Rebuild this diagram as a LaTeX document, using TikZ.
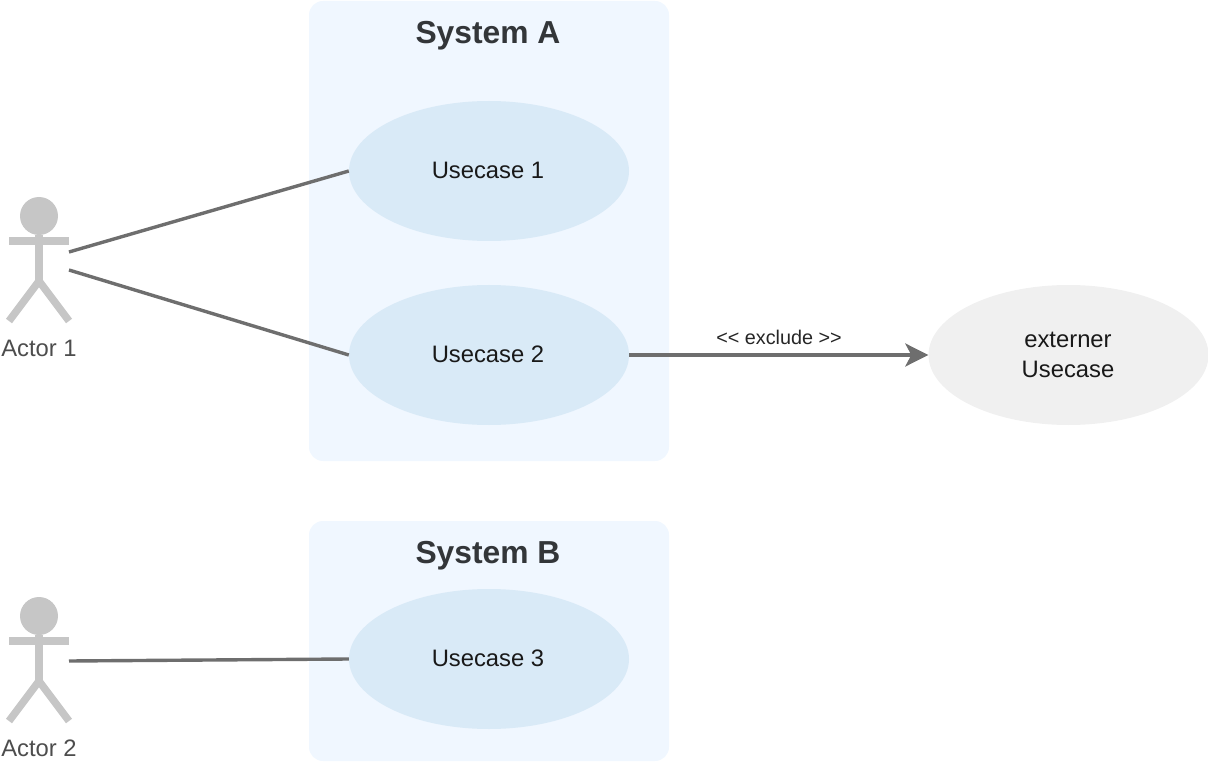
\documentclass[tikz,border=0pt]{standalone}
\usepackage{fontspec}
\setmainfont{Liberation Sans}
\usetikzlibrary{shapes.geometric,arrows.meta}
\definecolor{sysfill}{HTML}{F0F7FF}
\definecolor{ucfill}{HTML}{D9EAF7}
\definecolor{extfill}{HTML}{F0F0F0}
\definecolor{actorc}{HTML}{C6C6C6}
\definecolor{linec}{HTML}{6E6E6E}
\definecolor{titlec}{HTML}{333639}
\definecolor{actortext}{HTML}{4D4D4D}
\begin{document}
\begin{tikzpicture}[x=1pt,y=-1pt,
  usecase/.style={ellipse,fill=ucfill,minimum width=280pt,minimum height=140pt,inner sep=0pt},
  uctext/.style={font=\fontsize{23.8}{30}\selectfont,text=black!90,align=center},
  systitle/.style={font=\fontsize{31.8}{38}\selectfont\bfseries,text=titlec},
  actorlabel/.style={font=\fontsize{23.8}{28}\selectfont,text=actortext},
  limb/.style={draw=actorc,line width=7.5pt},
  conn/.style={draw=linec,line width=3.4pt},
]
\useasboundingbox (0,0) rectangle (1208,762);
\fill[sysfill,rounded corners=14pt] (309,1) rectangle (669,461);
\fill[sysfill,rounded corners=14pt] (309,521) rectangle (669,761);
\node[systitle] (sa) at (488,36) {System A};
\node[systitle] (sb) at (488,556) {System B};
\node[usecase] (u1) at (489,171) {};
\node[usecase] (u2) at (489,355) {};
\node[usecase] (u3) at (489,659) {};
\node[usecase,fill=extfill] (ext) at (1068.5,355) {};
\node[uctext] (t1) at (488,170) {Usecase 1};
\node[uctext] (t2) at (488,354) {Usecase 2};
\node[uctext] (t3) at (488,658) {Usecase 3};
\node[uctext] (t4) at (1068,355) {externer\\Usecase};
% actors
\foreach \n/\yy in {a/197,b/597}{
  \fill[actorc] (39,\yy+19) circle (19);
  \draw[limb] (39,\yy+38) -- (39,\yy+84);
  \draw[limb] (9,\yy+44) -- (69,\yy+44);
  \draw[limb] (9,\yy+124) -- (39,\yy+84) -- (69,\yy+124);
  \coordinate (\n1) at (69,\yy+55);
  \coordinate (\n2) at (69,\yy+73);
}
\coordinate (b3) at (69,661);
\node[actorlabel] (l1) at (39,348) {Actor 1};
\node[actorlabel] (l2) at (39,748) {Actor 2};
\draw[conn] (a1) -- (u1.west);
\draw[conn] (a2) -- (u2.west);
\draw[conn] (b3) -- (u3.west);
\draw[conn,-{Stealth[length=23pt,width=23pt,inset=6pt]}] (u2.east) -- (ext.west);
\node[font=\fontsize{19.8}{24}\selectfont,text=black!85] (ex) at (779,337) {<{}< exclude >{}>};
\end{tikzpicture}
\end{document}
